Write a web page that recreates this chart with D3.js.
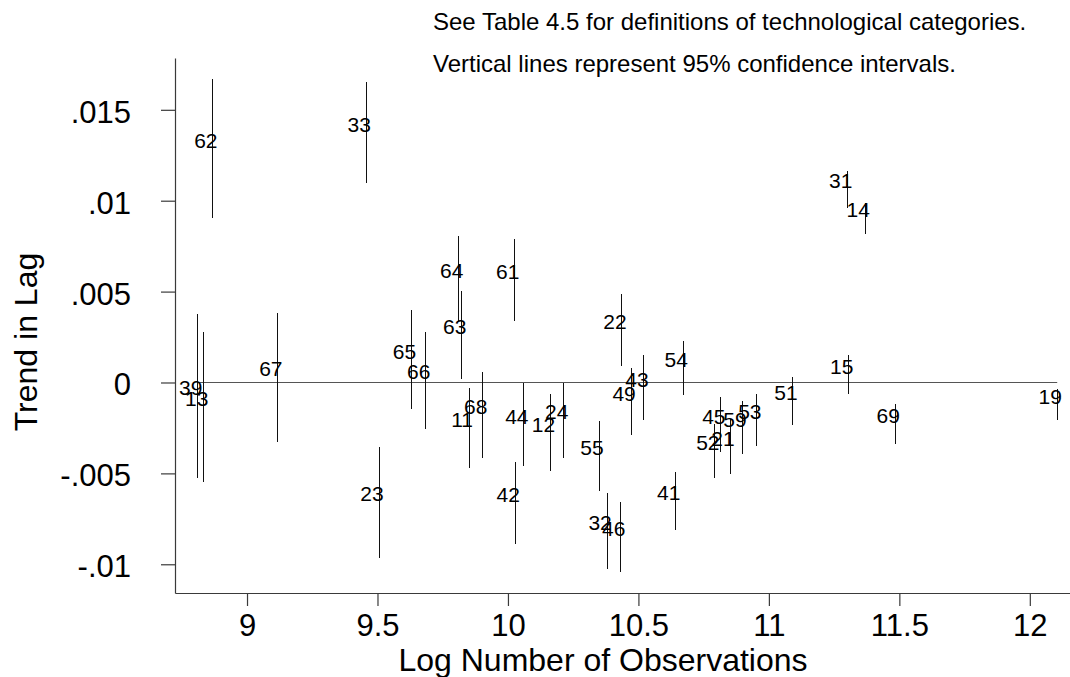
<!DOCTYPE html>
<meta charset="utf-8">
<style>

body {
  margin: 0;
  background: #fff;
}

text {
  font-family: "Liberation Sans", Arial, Helvetica, sans-serif;
  fill: #000;
}

.axis path,
.axis line {
  stroke: #3a3a3a;
  stroke-width: 1.2px;
}

.axis text {
  font-size: 31px;
}

.ci {
  stroke: #111;
  stroke-width: 1px;
  shape-rendering: crispEdges;
}

.zero {
  stroke: #555;
  stroke-width: 1.2px;
}

.lbl {
  font-size: 21px;
}

</style>
<svg width="1070" height="677"></svg>
<script src="https://d3js.org/d3.v7.min.js"></script>
<script>

// technology category codes
var codes = ["62", "33", "31", "14", "64", "61", "63", "65", "66", "22", "67", "54",
             "15", "39", "13", "43", "49", "51", "19", "68", "11", "44", "12", "24",
             "45", "59", "53", "69", "52", "21", "55", "23", "42", "41", "32", "46"];

// log number of observations
var logObs = [8.869, 9.457, 11.302, 11.369, 9.811, 10.026, 9.823, 9.630, 9.685, 10.437, 9.118, 10.672,
              11.306, 8.811, 8.834, 10.521, 10.472, 11.092, 12.105, 9.903, 9.851, 10.061, 10.163, 10.214,
              10.816, 10.897, 10.954, 11.484, 10.793, 10.851, 10.349, 9.506, 10.028, 10.643, 10.380, 10.432];

// trend in lag (point estimate)
var trend = [0.01285, 0.01375, 0.01062, 0.00903, 0.00572, 0.00564, 0.00261, 0.00125, 0.00013, 0.00288, 0.00028, 0.00078,
             0.00043, -0.00076, -0.00133, -0.00029, -0.00106, -0.00103, -0.00122, -0.00179, -0.00249, -0.00232, -0.00276, -0.00209,
             -0.00233, -0.00249, -0.00206, -0.00229, -0.00378, -0.00353, -0.00403, -0.0066, -0.00663, -0.00653, -0.00817, -0.0085];

// 95% confidence bounds
var ciLow = [0.00903, 0.01096, 0.00959, 0.00815, 0.00337, 0.0034, 0.00019, -0.00147, -0.00254, 0.00091, -0.00329, -0.0007,
             -0.00065, -0.00527, -0.00546, -0.00208, -0.0029, -0.00234, -0.00206, -0.00414, -0.00469, -0.00459, -0.00487, -0.00414,
             -0.00384, -0.00393, -0.00348, -0.0034, -0.00527, -0.00505, -0.00595, -0.00964, -0.0089, -0.00811, -0.01024, -0.01044];

var ciHigh = [0.01668, 0.01655, 0.01165, 0.0099, 0.00807, 0.00788, 0.00503, 0.00399, 0.00279, 0.00485, 0.00384, 0.00227,
              0.00151, 0.00375, 0.00279, 0.0015, 0.00078, 0.00029, -0.00037, 0.00056, -0.00029, -0.00004, -0.00065, -0.00004,
              -0.00081, -0.00103, -0.00065, -0.00118, -0.00228, -0.00201, -0.00212, -0.00356, -0.00436, -0.00494, -0.00609, -0.00656];

var yTicks = [-0.01, -0.005, 0, 0.005, 0.01, 0.015];
var yTickLabels = ["-.01", "-.005", "0", ".005", ".01", ".015"];
var xTicks = [9, 9.5, 10, 10.5, 11, 11.5, 12];
var xTickLabels = ["9", "9.5", "10", "10.5", "11", "11.5", "12"];

var notes = ["See Table 4.5 for definitions of technological categories.",
             "Vertical lines represent 95% confidence intervals."];

var svg = d3.select("svg");

var data = codes.map(function(c, i) {
  return {code: c, x: logObs[i], y: trend[i], lo: ciLow[i], hi: ciHigh[i]};
});

var x = d3.scaleLinear().domain([8.724, 12.154]).range([175, 1070]);
var y = d3.scaleLinear().domain([-0.01158, 0.01785]).range([593, 58]);

// axes
var yAxis = svg.append("g")
    .attr("class", "axis")
    .attr("transform", "translate(175,0)")
    .call(d3.axisLeft(y)
      .tickValues(yTicks)
      .tickFormat(function(d, i) { return yTickLabels[i]; })
      .tickSize(14)
      .tickSizeOuter(0)
      .tickPadding(30));
yAxis.selectAll("text").attr("dy", "0.40em");

svg.append("g")
    .attr("class", "axis")
    .attr("transform", "translate(0,593)")
    .call(d3.axisBottom(x)
      .tickValues(xTicks)
      .tickFormat(function(d, i) { return xTickLabels[i]; })
      .tickSize(13)
      .tickSizeOuter(0)
      .tickPadding(8));

svg.selectAll(".axis text").attr("fill", "#000").style("font-family", null);

// zero reference line across the data range
svg.append("line")
    .attr("class", "zero")
    .attr("x1", x(d3.min(logObs)))
    .attr("x2", x(d3.max(logObs)))
    .attr("y1", y(0))
    .attr("y2", y(0));

// confidence interval lines
svg.selectAll(".ci")
    .data(data)
  .enter().append("line")
    .attr("class", "ci")
    .attr("x1", function(d) { return x(d.x); })
    .attr("x2", function(d) { return x(d.x); })
    .attr("y1", function(d) { return y(d.lo); })
    .attr("y2", function(d) { return y(d.hi); });

// category labels sit on the point estimate
svg.selectAll(".lbl")
    .data(data)
  .enter().append("text")
    .attr("class", "lbl")
    .attr("text-anchor", "middle")
    .attr("x", function(d) { return x(d.x) - 7; })
    .attr("y", function(d) { return y(d.y) - 1; })
    .text(function(d) { return d.code; });

// titles
svg.append("text")
    .attr("transform", "translate(37,342) rotate(-90)")
    .attr("text-anchor", "middle")
    .style("font-size", "32px")
    .text("Trend in Lag");

svg.append("text")
    .attr("x", 603)
    .attr("y", 671)
    .attr("text-anchor", "middle")
    .style("font-size", "32px")
    .text("Log Number of Observations");

svg.selectAll(".note")
    .data(notes)
  .enter().append("text")
    .attr("class", "note")
    .attr("x", 433)
    .attr("y", function(d, i) { return 29.5 + i * 42; })
    .style("font-size", "24px")
    .text(function(d) { return d; });

</script>
